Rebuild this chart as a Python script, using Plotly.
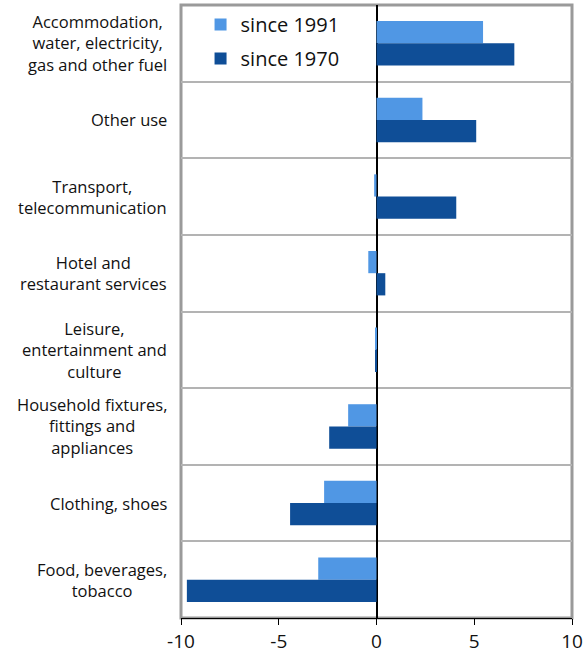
import plotly.graph_objects as go

# categories, top to bottom
categories = [
    "Accommodation,<br>water, electricity,<br>gas and other fuel",
    "Other use",
    "Transport,<br>telecommunication",
    "Hotel and<br>restaurant services",
    "Leisure,<br>entertainment and<br>culture",
    "Household fixtures,<br>fittings and<br>appliances",
    "Clothing, shoes",
    "Food, beverages,<br>tobacco",
]
since_1991 = [5.45, 2.35, -0.12, -0.42, -0.05, -1.45, -2.68, -2.98]
since_1970 = [7.05, 5.1, 4.08, 0.45, -0.05, -2.42, -4.42, -9.7]
x_ticks = [-10, -5, 0, 5, 10]
x_tick_text = ["-10", "-5", "0", "5", "10"]

FONT = "Open Sans"

fig = go.Figure()
fig.add_trace(go.Bar(
    y=categories, x=since_1991, orientation="h", name="since 1991",
    marker=dict(color="#5097E4", line=dict(width=0)),
    legendgroup="a",
))
fig.add_trace(go.Bar(
    y=categories, x=since_1970, orientation="h", name="since 1970",
    marker=dict(color="#0F4E97", line=dict(width=0)),
    legendgroup="b",
))

# category labels, centred multi-line text right-aligned to the plot edge
for cat in categories:
    fig.add_annotation(
        x=-0.03, xref="paper", y=cat, yref="y",
        text=cat, showarrow=False, xanchor="right", align="center",
        font=dict(family=FONT, size=16.5, color="#111111"),
    )

# plot frame
fig.add_shape(type="rect", xref="paper", yref="paper", x0=0, x1=1, y0=0, y1=1,
              line=dict(color="#9a9a9a", width=3), layer="below")

fig.update_layout(
    width=585, height=665,
    margin=dict(l=181, r=13, t=5, b=47, autoexpand=False),
    barmode="group", bargap=0.42, bargroupgap=0,
    plot_bgcolor="white", paper_bgcolor="white",
    font=dict(family=FONT, color="#111111"),
    showlegend=True,
    legend=dict(
        x=0.05, y=1.0, xanchor="left", yanchor="top",
        bgcolor="rgba(0,0,0,0)", font=dict(size=20),
        traceorder="grouped", tracegroupgap=5,
    ),
    xaxis=dict(
        range=[-10, 10], tickvals=x_ticks, ticktext=x_tick_text,
        ticks="outside", ticklen=6, automargin=False,
        tickcolor="black", showline=True, linecolor="black", linewidth=1,
        showgrid=False, zeroline=True, zerolinecolor="black", zerolinewidth=1.5,
        tickfont=dict(size=19),
    ),
    yaxis=dict(
        autorange="reversed", showticklabels=False, tickson="boundaries",
        showgrid=True, gridcolor="#b3b3b3", gridwidth=1.5, ticks="",
        automargin=False,
    ),
)

fig.write_html("out.html", config={"displayModeBar": False},
               post_script="document.body.style.margin='0';")
